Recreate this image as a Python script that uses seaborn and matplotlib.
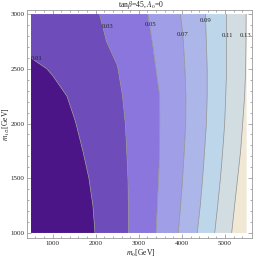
import numpy as np
import seaborn as sns
import matplotlib
matplotlib.use("Agg")
import matplotlib.pyplot as plt

# ---- data ----
m0 = [500, 1000, 1500, 2000, 2500, 3000, 3500, 4000, 4500, 5000, 5500]
m12 = [1000, 1250, 1500, 1750, 2000, 2250, 2500, 2750, 3000]
z_1000 = [-0.0266, -0.0143, -0.0019, 0.0104, 0.0228, 0.0367, 0.0533, 0.0734, 0.0968, 0.1222, 0.1476]
z_1250 = [-0.0234, -0.0118, -0.0001, 0.0115, 0.0232, 0.0364, 0.0523, 0.0712, 0.0933, 0.1187, 0.1442]
z_1500 = [-0.0183, -0.0078, 0.0028, 0.0133, 0.0239, 0.0362, 0.0513, 0.0693, 0.0909, 0.1152, 0.1406]
z_1750 = [-0.0126, -0.0032, 0.0062, 0.0156, 0.0250, 0.0364, 0.0505, 0.0677, 0.0888, 0.1126, 0.1367]
z_2000 = [-0.0073, 0.0010, 0.0093, 0.0176, 0.0259, 0.0369, 0.0504, 0.0664, 0.0868, 0.1104, 0.1344]
z_2250 = [-0.0024, 0.0050, 0.0125, 0.0199, 0.0274, 0.0380, 0.0504, 0.0664, 0.0860, 0.1093, 0.1321]
z_2500 = [0.0056, 0.0116, 0.0176, 0.0236, 0.0296, 0.0405, 0.0525, 0.0674, 0.0862, 0.1083, 0.1310]
z_2750 = [0.0168, 0.0203, 0.0238, 0.0274, 0.0326, 0.0429, 0.0544, 0.0688, 0.0872, 0.1084, 0.1306]
z_3000 = [0.0200, 0.0229, 0.0258, 0.0288, 0.0355, 0.0451, 0.0568, 0.0710, 0.0882, 0.1085, 0.1305]
levels = [0.01, 0.03, 0.05, 0.07, 0.09, 0.11, 0.13]
level_labels = ["0.01", "0.03", "0.05", "0.07", "0.09", "0.11", "0.13"]

# ---- style ----
sns.set_theme(style="ticks")
plt.rcParams["font.family"] = ["Liberation Serif", "DejaVu Serif"]
plt.rcParams["mathtext.fontset"] = "stix"

band_colors = ["#4b1587", "#6e4cba", "#8a76dc", "#a09ee6", "#adb6e8",
               "#bdd6ea", "#d2dde2", "#f0e7d5"]
label_pos = [(640, 2598), (2283, 2890), (3278, 2908), (4007, 2817),
             (4551, 2945), (5061, 2808), (5477, 2808)]

Z = np.array([z_1000, z_1250, z_1500, z_1750, z_2000, z_2250, z_2500, z_2750, z_3000])
X, Y = np.meshgrid(m0, m12)

fig = plt.figure(figsize=(2.55, 2.59), dpi=100)
ax = fig.add_axes([27 / 255, 1 - 238 / 259, 225 / 255, 228 / 259])

bounds = [-1.0] + levels + [1.0]
ax.contourf(X, Y, Z, levels=bounds, colors=band_colors, antialiased=True)
ax.contour(X, Y, Z, levels=levels, colors="#8c8c8c", linewidths=0.5)

for (lx, ly), txt in zip(label_pos, level_labels):
    ax.text(lx, ly, txt, fontsize=4.8, ha="center", va="center",
            color="#222222", clip_on=False)

ax.set_xlim(407, 5625)
ax.set_ylim(954, 3037)
ax.set_xticks([1000, 2000, 3000, 4000, 5000])
ax.set_yticks([1000, 1500, 2000, 2500, 3000])
ax.set_xticks(np.arange(600, 5600, 200), minor=True)
ax.set_yticks(np.arange(1000, 3001, 100), minor=True)
ax.tick_params(which="both", direction="in", top=True, right=True,
               colors="#888888", labelcolor="#222222", labelsize=5, width=0.5, pad=2)
ax.tick_params(which="major", length=3)
ax.tick_params(which="minor", length=1.5)
for s in ax.spines.values():
    s.set_color("#999999")
    s.set_linewidth(0.6)

fig.text(141 / 255, 1 - 5 / 259, r"tan$\beta$=45, $A_0$=0", fontsize=5.5,
         ha="center", va="center", color="#222222")
fig.text(141 / 255, 1 - 253 / 259, r"$m_0$[GeV]", fontsize=5.5,
         ha="center", va="center", color="#222222")
fig.text(6 / 255, 1 - 124 / 259, r"$m_{1/2}$[GeV]", fontsize=5.5, rotation=90,
         ha="center", va="center", color="#222222")

fig.savefig("out.png", dpi=100)
